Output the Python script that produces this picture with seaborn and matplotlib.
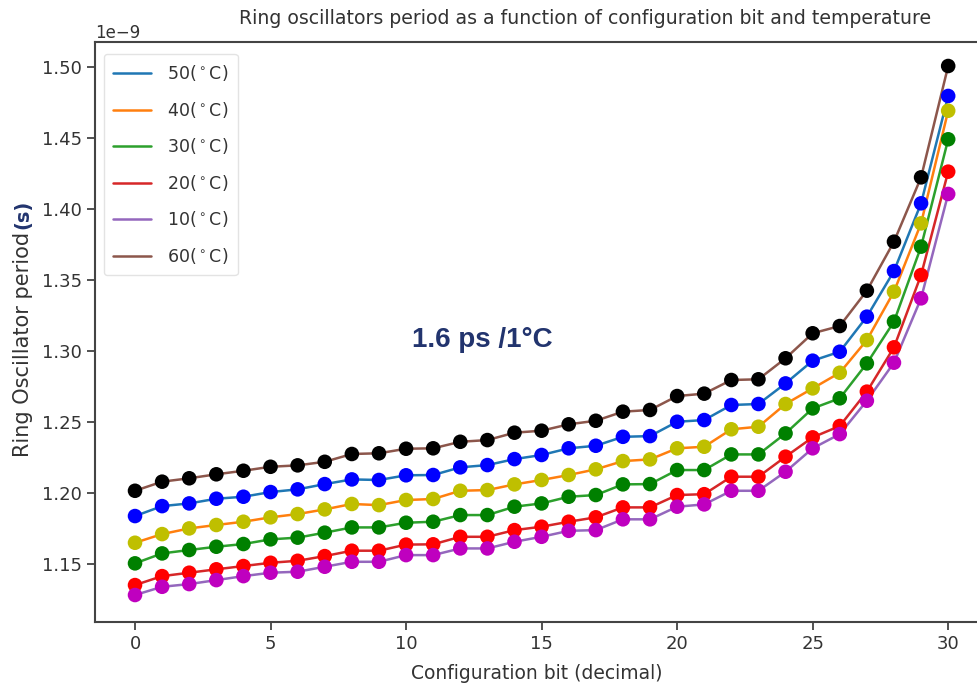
import numpy as np
import pandas as pd
import matplotlib
matplotlib.use("Agg")
import matplotlib.pyplot as plt
import seaborn as sns

config_bits = list(range(31))
temps = ["50", "40", "30", "20", "10", "60"]

period_50 = [1.1838, 1.1908, 1.1927, 1.1960, 1.1974, 1.2007, 1.2026, 1.2063, 1.2096, 1.2092,
             1.2125, 1.2127, 1.2181, 1.2197, 1.2239, 1.2268, 1.2315, 1.2333, 1.2396, 1.2401,
             1.2502, 1.2514, 1.2620, 1.2627, 1.2772, 1.2932, 1.2995, 1.3242, 1.3563, 1.4040, 1.4796]
period_40 = [1.1650, 1.1711, 1.1751, 1.1775, 1.1798, 1.1829, 1.1852, 1.1885, 1.1923, 1.1915,
             1.1951, 1.1958, 1.2016, 1.2021, 1.2061, 1.2092, 1.2127, 1.2167, 1.2225, 1.2237,
             1.2315, 1.2326, 1.2449, 1.2467, 1.2627, 1.2737, 1.2847, 1.3077, 1.3418, 1.3899, 1.4692]
period_30 = [1.1505, 1.1575, 1.1599, 1.1622, 1.1641, 1.1674, 1.1686, 1.1721, 1.1758, 1.1758,
             1.1791, 1.1798, 1.1845, 1.1845, 1.1904, 1.1927, 1.1974, 1.1986, 1.2061, 1.2063,
             1.2162, 1.2162, 1.2272, 1.2272, 1.2420, 1.2596, 1.2667, 1.2913, 1.3207, 1.3735, 1.4491]
period_20 = [1.1352, 1.1415, 1.1439, 1.1463, 1.1486, 1.1509, 1.1523, 1.1556, 1.1594, 1.1594,
             1.1637, 1.1639, 1.1692, 1.1692, 1.1739, 1.1763, 1.1798, 1.1829, 1.1899, 1.1899,
             1.1986, 1.1992, 1.2115, 1.2115, 1.2256, 1.2392, 1.2472, 1.2714, 1.3026, 1.3535, 1.4263]
period_10 = [1.1282, 1.1340, 1.1359, 1.1387, 1.1415, 1.1439, 1.1446, 1.1481, 1.1516, 1.1516,
             1.1563, 1.1563, 1.1610, 1.1610, 1.1657, 1.1692, 1.1734, 1.1739, 1.1815, 1.1815,
             1.1904, 1.1920, 1.2016, 1.2016, 1.2150, 1.2315, 1.2415, 1.2650, 1.2918, 1.3371, 1.4106]
period_60 = [1.2016, 1.2080, 1.2104, 1.2132, 1.2157, 1.2185, 1.2195, 1.2220, 1.2275, 1.2280,
             1.2312, 1.2315, 1.2361, 1.2373, 1.2425, 1.2439, 1.2484, 1.2509, 1.2573, 1.2585,
             1.2683, 1.2700, 1.2796, 1.2801, 1.2949, 1.3125, 1.3176, 1.3425, 1.3770, 1.4223, 1.5007]

series = [period_50, period_40, period_30, period_20, period_10, period_60]
labels = [f"{t}($^\\circ$C)" for t in temps]
line_colors = ["#1f77b4", "#ff7f0e", "#2ca02c", "#d62728", "#9467bd", "#8c564b"]
marker_colors = ["#0000ff", "#bfbf00", "#008000", "#ff0000", "#bf00bf", "#000000"]

rows = []
for lab, vals in zip(labels, series):
    for b, v in zip(config_bits, vals):
        rows.append({"bit": b, "period": v * 1e-9, "temp": lab})
df = pd.DataFrame(rows)

sns.set_theme(style="white")
plt.rcParams["font.family"] = ["DejaVu Sans"]
plt.rcParams["mathtext.fontset"] = "dejavusans"
text_col = "#333333"

fig = plt.figure(figsize=(9.78, 6.89), dpi=100)
ax = fig.add_axes([95 / 978, 67 / 689, 883 / 978, 580 / 689])

sns.lineplot(data=df, x="bit", y="period", hue="temp", hue_order=labels,
             palette=line_colors, linewidth=1.8, ax=ax, legend=True)
sns.scatterplot(data=df, x="bit", y="period", hue="temp", hue_order=labels,
                palette=marker_colors, s=110, linewidth=0, ax=ax, legend=False, zorder=3)

ax.set_xlim(-1.476, 31.1)
ax.set_ylim(1.1092e-9, 1.5176e-9)
ax.set_xticks([0, 5, 10, 15, 20, 25, 30])
ax.set_yticks(np.arange(1.15, 1.501, 0.05) * 1e-9)
ax.ticklabel_format(axis="y", style="sci", scilimits=(0, 0), useMathText=False)
ax.tick_params(axis="both", which="both", length=6, width=1.2, color=text_col,
               labelsize=13, labelcolor=text_col, bottom=True, left=True)
ax.yaxis.get_offset_text().set_fontsize(12)
ax.yaxis.get_offset_text().set_color(text_col)
for side in ["left", "bottom", "top"]:
    ax.spines[side].set_color("#444444")
    ax.spines[side].set_linewidth(1.5)
ax.spines["right"].set_visible(False)

ax.set_xlabel("Configuration bit (decimal)", fontsize=13.5, color=text_col, labelpad=8)
ax.set_ylabel("")
fig.text(23 / 978, 1 - 232 / 689, "Ring Oscillator period", rotation=90, fontsize=15,
         color=text_col, ha="center", va="top")
fig.text(23 / 978, 1 - 229 / 689, "(s)", rotation=90, fontsize=14, fontweight="bold",
         color="#22346e", ha="center", va="bottom")

fig.text(585 / 978, 1 - 18 / 689,
         "Ring oscillators period as a function of configuration bit and temperature",
         fontsize=13.6, color=text_col, ha="center", va="center")

fig.text(482 / 978, 1 - 340 / 689, "1.6 ps /1°C", fontsize=20,
         fontweight="bold", color="#22346e", ha="center", va="center",
         family=["Liberation Sans", "DejaVu Sans"])

leg = ax.legend(loc="upper left", fontsize=12.5, frameon=True, handlelength=2.2,
                labelspacing=0.95, borderpad=0.55, handletextpad=0.9,
                bbox_to_anchor=(0.0, 0.995))
leg.get_frame().set_edgecolor("#dddddd")
for t in leg.get_texts():
    t.set_color(text_col)

fig.savefig("out.png", dpi=100)
